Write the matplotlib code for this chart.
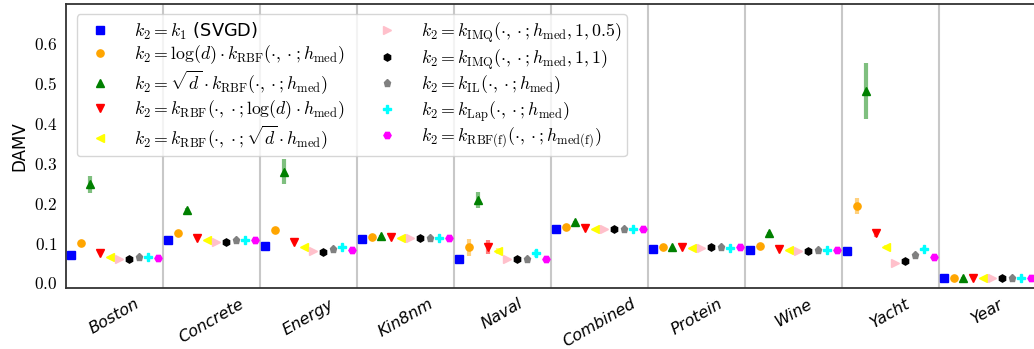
import matplotlib
matplotlib.use("Agg")
import matplotlib.pyplot as plt
import numpy as np

plt.rcParams['mathtext.fontset'] = 'cm'
plt.rcParams['font.family'] = ['DejaVu Sans']

datasets = ["Boston", "Concrete", "Energy", "Kin8nm", "Naval", "Combined",
            "Protein", "Wine", "Yacht", "Year"]

labels = [
    r"$k_2 = k_1$ (SVGD)",
    r"$k_2 = \log(d) \cdot k_{\mathrm{RBF}}(\cdot, \cdot; h_{\mathrm{med}})$",
    r"$k_2 = \sqrt{d} \cdot k_{\mathrm{RBF}}(\cdot, \cdot; h_{\mathrm{med}})$",
    r"$k_2 = k_{\mathrm{RBF}}(\cdot, \cdot; \log(d) \cdot h_{\mathrm{med}})$",
    r"$k_2 = k_{\mathrm{RBF}}(\cdot, \cdot; \sqrt{d} \cdot h_{\mathrm{med}})$",
    r"$k_2 = k_{\mathrm{IMQ}}(\cdot, \cdot; h_{\mathrm{med}}, 1, 0.5)$",
    r"$k_2 = k_{\mathrm{IMQ}}(\cdot, \cdot; h_{\mathrm{med}}, 1, 1)$",
    r"$k_2 = k_{\mathrm{IL}}(\cdot, \cdot; h_{\mathrm{med}})$",
    r"$k_2 = k_{\mathrm{Lap}}(\cdot, \cdot; h_{\mathrm{med}})$",
    r"$k_2 = k_{\mathrm{RBF(f)}}(\cdot, \cdot; h_{\mathrm{med(f)}})$",
]

# values per series over datasets
svgd      = [0.068, 0.106, 0.091, 0.110, 0.059, 0.135, 0.085, 0.081, 0.079, 0.012]
logd_rbf  = [0.100, 0.123, 0.131, 0.114, 0.088, 0.138, 0.088, 0.091, 0.192, 0.012]
sqrtd_rbf = [0.246, 0.183, 0.278, 0.117, 0.207, 0.152, 0.088, 0.125, 0.481, 0.012]
rbf_logd  = [0.075, 0.112, 0.101, 0.113, 0.089, 0.137, 0.089, 0.085, 0.124, 0.012]
rbf_sqrtd = [0.065, 0.106, 0.089, 0.111, 0.079, 0.133, 0.087, 0.081, 0.089, 0.012]
imq_05    = [0.060, 0.102, 0.079, 0.111, 0.058, 0.134, 0.087, 0.079, 0.050, 0.012]
imq_1     = [0.059, 0.101, 0.077, 0.111, 0.058, 0.133, 0.088, 0.079, 0.053, 0.012]
il        = [0.063, 0.106, 0.083, 0.112, 0.060, 0.133, 0.088, 0.082, 0.069, 0.012]
lap       = [0.064, 0.106, 0.088, 0.111, 0.073, 0.133, 0.087, 0.081, 0.084, 0.012]
rbf_f     = [0.061, 0.106, 0.082, 0.111, 0.058, 0.133, 0.088, 0.081, 0.063, 0.012]

svgd_err      = [0.002, 0.002, 0.002, 0.001, 0.002, 0.001, 0.001, 0.001, 0.002, 0.0005]
logd_rbf_err  = [0.003, 0.003, 0.003, 0.001, 0.021, 0.001, 0.001, 0.002, 0.019, 0.0005]
sqrtd_rbf_err = [0.021, 0.003, 0.031, 0.001, 0.021, 0.001, 0.001, 0.002, 0.070, 0.0005]
rbf_logd_err  = [0.003, 0.002, 0.003, 0.001, 0.017, 0.001, 0.001, 0.002, 0.011, 0.0005]
rbf_sqrtd_err = [0.002, 0.002, 0.002, 0.001, 0.008, 0.001, 0.001, 0.001, 0.005, 0.0005]
imq_05_err    = [0.002, 0.002, 0.002, 0.001, 0.002, 0.001, 0.001, 0.001, 0.002, 0.0005]
imq_1_err     = [0.002, 0.002, 0.002, 0.001, 0.002, 0.001, 0.001, 0.001, 0.002, 0.0005]
il_err        = [0.002, 0.002, 0.002, 0.001, 0.002, 0.001, 0.001, 0.001, 0.003, 0.0005]
lap_err       = [0.002, 0.002, 0.002, 0.001, 0.009, 0.001, 0.001, 0.001, 0.005, 0.0005]
rbf_f_err     = [0.002, 0.002, 0.002, 0.001, 0.002, 0.001, 0.001, 0.001, 0.003, 0.0005]

series = [svgd, logd_rbf, sqrtd_rbf, rbf_logd, rbf_sqrtd, imq_05, imq_1, il, lap, rbf_f]
errors = [svgd_err, logd_rbf_err, sqrtd_rbf_err, rbf_logd_err, rbf_sqrtd_err,
          imq_05_err, imq_1_err, il_err, lap_err, rbf_f_err]
colors = ["blue", "orange", "green", "red", "yellow", "pink", "black", "gray", "cyan", "magenta"]
markers = ["s", "o", "^", "v", "<", ">", "h", "p", "P", "H"]
yticks = [0.0, 0.1, 0.2, 0.3, 0.4, 0.5, 0.6]

fig = plt.figure(figsize=(10.34, 3.49), dpi=100)
ax = fig.add_axes([66/1034, 61/349, 970/1034, 284/349])

n = len(series)
x = np.arange(len(datasets))
offsets = np.linspace(-0.45, 0.45, n)
for i in range(n):
    xs = x + offsets[i]
    ax.errorbar(xs, series[i], yerr=errors[i], fmt='none', ecolor=colors[i],
                elinewidth=3, alpha=0.5, capsize=0, zorder=2)
    ax.plot(xs, series[i], linestyle='none', marker=markers[i], color=colors[i],
            markersize=5.2, label=labels[i], zorder=3)

for b in np.arange(len(datasets) - 1) + 0.5:
    ax.axvline(b, color='#c8c8c8', linewidth=1.5, zorder=0)

ax.set_xlim(-0.5, len(datasets) - 0.5)
ax.set_ylim(-0.014, 0.699)
ax.set_xticks(x)
ax.set_xticklabels(datasets, rotation=30, fontstyle='italic', fontsize=11.5)
ax.set_yticks(yticks)
ax.set_yticklabels([r"$%.1f$" % v for v in yticks], fontsize=12.5)
ax.tick_params(length=0, pad=6)
ax.set_ylabel("DAMV", fontsize=12)
for s in ax.spines.values():
    s.set_color('#333333')
    s.set_linewidth(1.3)

leg = ax.legend(ncol=2, loc='upper left', fontsize=12.8, frameon=True,
                bbox_to_anchor=(0.002, 0.995), handletextpad=0.9,
                labelspacing=0.12, columnspacing=1.4, borderpad=0.3,
                handlelength=2.0, markerscale=1.0)
leg.get_frame().set_edgecolor('#cccccc')
leg.get_frame().set_alpha(0.8)

fig.savefig("out.png", dpi=100)
